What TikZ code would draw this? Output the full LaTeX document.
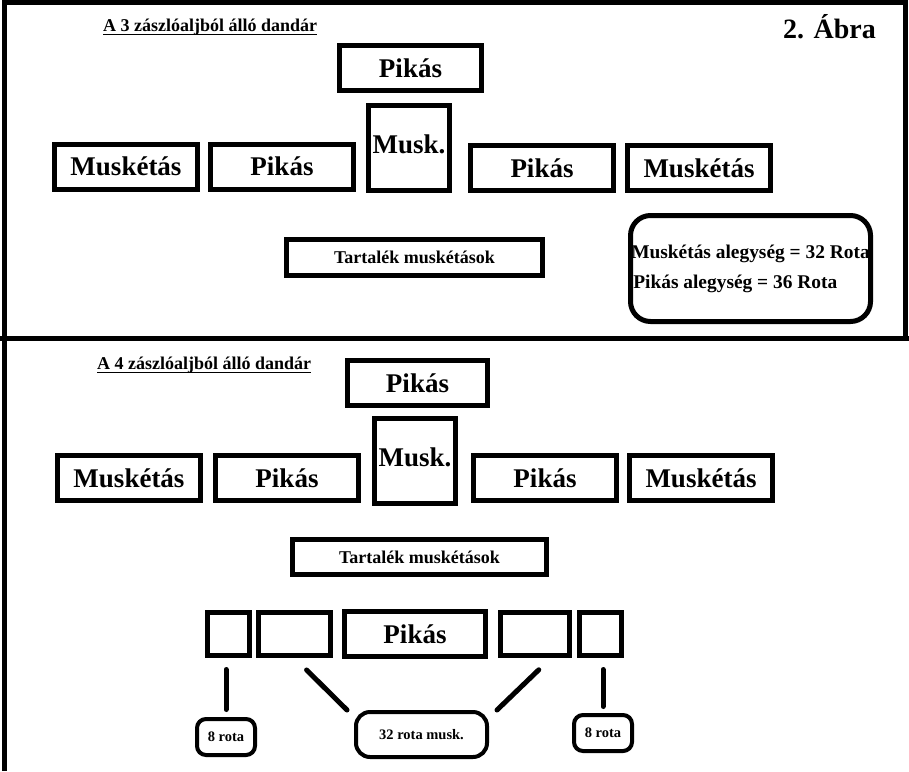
\documentclass[tikz,border=0pt]{standalone}
\usepackage{fontspec}
\setmainfont{Liberation Serif}
\usetikzlibrary{positioning}

\newsavebox{\ulbox}
\newcommand{\ulined}[1]{\sbox{\ulbox}{#1}\rlap{\usebox{\ulbox}}\rule[-4.4pt]{\wd\ulbox}{1.8pt}}

\tikzset{
  frame/.style={line width=5pt},
  unit/.style={draw, line width=5pt, inner sep=0pt, minimum width=143pt, minimum height=45pt,
    font=\bfseries\fontsize{27}{30}\selectfont},
  musk/.style={unit, minimum width=81pt, minimum height=85pt, text height=47.5pt, text depth=37.5pt},
  slot/.style={draw, line width=5pt, inner sep=0pt, minimum height=43pt},
  reserve/.style={draw, line width=5pt, inner sep=0pt, minimum height=36pt,
    font=\bfseries\fontsize{18}{21}\selectfont},
  legend/.style={draw, line width=5pt, rounded corners=20pt, inner sep=0pt, minimum width=240pt,
    minimum height=106pt, align=left, font=\bfseries\fontsize{19.4}{30}\selectfont},
  rota/.style={draw, line width=4pt, rounded corners=9pt, inner sep=0pt, minimum height=36pt,
    font=\bfseries\fontsize{14.5}{17}\selectfont},
  link/.style={line width=5pt, line cap=round},
  heading/.style={inner sep=0pt, anchor=base west, font=\bfseries\fontsize{18}{21}\selectfont},
}

\begin{document}
\begin{tikzpicture}[x=1pt, y=-1pt]
    \useasboundingbox (0,0) rectangle (909,771);
    \draw[frame] (4.5,771) -- (4.5,2.5) -- (905.5,2.5) -- (905.5,338);
    \draw[frame] (0,338) -- (909,338);

    % 3 battalions
    \node[heading] (h3)  at (103,31) {\ulined{A 3 zászlóaljból álló dandár}};
    \node[heading, font=\bfseries\fontsize{28}{32}\selectfont] (fig) at (783,38) {2. Ábra};
    \node[unit, minimum width=142pt] (p3top) at (410.5,68) {Pikás};
    \node[musk]                 (m3)   at (409,148) {Musk.};
    \node[unit]                 (mk3l) at (126,166.5) {Muskétás};
    \node[unit, right=8pt of mk3l] (p3l) {Pikás};
    \node[unit]                 (p3r)  at (542,168) {Pikás};
    \node[unit, right=9pt of p3r]  (mk3r) {Muskétás};
    \node[reserve, minimum width=256pt] (t3) at (414.5,257.5) {Tartalék muskétások};
    \node[legend] (key) at (750.5,268.5) {Muskétás alegység = 32 Rota\\\hspace{2pt}Pikás alegység = 36 Rota};

    % 4 battalions
    \node[heading] (h4)  at (97,369) {\ulined{A 4 zászlóaljból álló dandár}};
    \node[unit, minimum width=140pt] (p4top) at (417.5,383) {Pikás};
    \node[musk]                 (m4)   at (415,461) {Musk.};
    \node[unit]                 (mk4l) at (129,478) {Muskétás};
    \node[unit, right=10pt of mk4l] (p4l) {Pikás};
    \node[unit]                 (p4r)  at (545,478) {Pikás};
    \node[unit, right=8pt of p4r]  (mk4r) {Muskétás};
    \node[reserve, minimum width=254pt, minimum height=35pt] (t4) at (419.5,557) {Tartalék muskétások};

    \node[slot, minimum width=42pt] (b1) at (228.5,634) {};
    \node[slot, minimum width=72pt, right=4pt of b1] (b2) {};
    \node[unit, minimum width=141pt, right=9pt of b2] (pb) {Pikás};
    \node[slot, minimum width=69pt, right=10pt of pb] (b4) {};
    \node[slot, minimum width=42pt, right=5pt of b4] (b5) {};

    \node[rota, minimum width=58pt] (r8l) at (226,737) {8 rota};
    \node[rota, minimum width=131pt, minimum height=45pt, rounded corners=14pt] (r32) at (421.5,734.5) {32 rota musk.};
    \node[rota, minimum width=58pt] (r8r) at (603,733) {8 rota};

    \draw[link, shorten <=11.5pt, shorten >=7.5pt] (b1.south -| r8l) -- (r8l.north);
    \draw[link, shorten <=17pt] (b2.south) -- ([xshift=-7pt]r32.north west);
    \draw[link, shorten <=17pt] ([xshift=16pt]b4.south) -- ([xshift=8pt]r32.north east);
    \draw[link, shorten <=11.5pt, shorten >=6.5pt] (b5.south -| r8r) -- (r8r.north);
\end{tikzpicture}
\end{document}
